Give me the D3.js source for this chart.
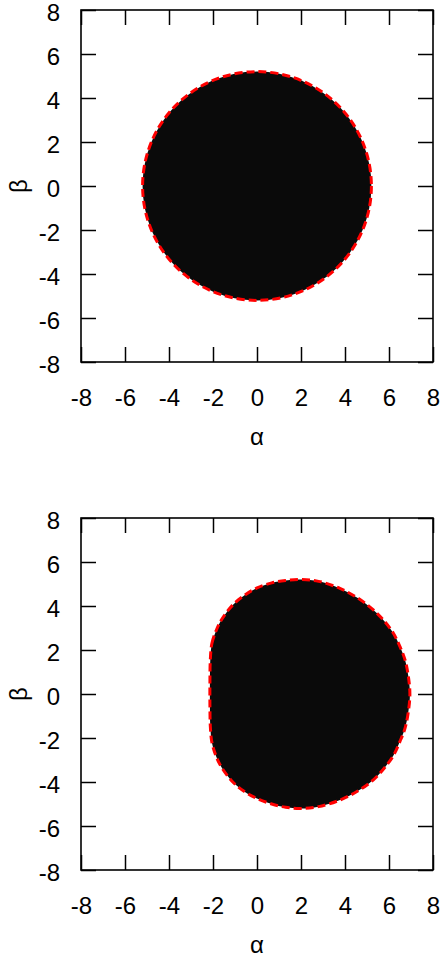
<!DOCTYPE html>
<html>
<head>
<meta charset="utf-8">
<script src="https://cdn.jsdelivr.net/npm/d3@7"></script>
<style>
  body { margin: 0; background: #fff; }
  text { font-family: "Liberation Sans", Arial, sans-serif; }
</style>
</head>
<body>
<script>
// DATA
// =============================================================================

const tickValues = [-8, -6, -4, -2, 0, 2, 4, 6, 8];

// panel 1: circular region (centre alpha, centre beta, radius)
const circleRegion = [{ alpha: 0, beta: 0, r: 5.2 }];

// panel 2: boundary of the shifted region
const boundaryAlpha = [-2.12, -2.05, -1.85, -1.6, -1.1, -0.55, 0.0, 0.67, 1.3, 2.0,
  2.8, 3.77, 4.6, 5.29, 5.8, 6.2, 6.5, 6.73, 6.88, 6.95, 6.88, 6.73, 6.5, 6.2,
  5.8, 5.29, 4.6, 3.77, 2.8, 2.0, 1.3, 0.67, 0.0, -0.55, -1.1, -1.6, -1.85,
  -2.05, -2.12, -2.14, -2.14];
const boundaryBeta = [1.6, 2.3, 2.9, 3.4, 4.05, 4.5, 4.82, 5.05, 5.16, 5.2,
  5.12, 4.8, 4.35, 3.82, 3.3, 2.76, 2.15, 1.55, 0.8, 0.0, -0.8, -1.55, -2.15, -2.8,
  -3.35, -3.9, -4.4, -4.82, -5.12, -5.2, -5.15, -5.0, -4.75, -4.45, -4.0, -3.35, -2.85,
  -2.2, -1.5, -0.5, 0.5];

// CONFIG
// =============================================================================

const width = 444;
const height = 960;
const plotSize = 352;
const left = 81;
const panelTops = [10, 518];
const tickLen = 15;
const fontSize = 24;

const svg = d3.select("body")
  .append("svg")
  .attr("width", width)
  .attr("height", height);

const xScale = d3.scaleLinear().domain([-8, 8]).range([0, plotSize]);
const yScale = d3.scaleLinear().domain([-8, 8]).range([plotSize, 0]);

// plain hyphen for negatives, like the original
const fmt = d => String(d);

function drawFrame(g) {
  g.append("g")
    .attr("class", "xlab")
    .attr("transform", `translate(0,${plotSize})`)
    .call(d3.axisBottom(xScale).tickValues(tickValues).tickSize(-tickLen).tickSizeOuter(0).tickPadding(27).tickFormat(fmt));
  g.append("g")
    .call(d3.axisTop(xScale).tickValues(tickValues).tickSize(-tickLen).tickSizeOuter(0).tickFormat(""));
  g.append("g")
    .attr("class", "ylab")
    .call(d3.axisLeft(yScale).tickValues(tickValues).tickSize(-tickLen).tickSizeOuter(0).tickPadding(21).tickFormat(fmt));
  g.append("g")
    .attr("transform", `translate(${plotSize},0)`)
    .call(d3.axisRight(yScale).tickValues(tickValues).tickSize(-tickLen).tickSizeOuter(0).tickFormat(""));

  g.selectAll(".domain").remove();
  g.selectAll(".tick line").attr("stroke", "#000").attr("stroke-width", 1.5);
  g.selectAll(".tick text")
    .attr("font-size", fontSize)
    .attr("font-family", "'Liberation Sans', Arial, sans-serif")
    .attr("fill", "#000");
  g.selectAll(".ylab .tick text").attr("dy", "0.42em");

  g.append("rect")
    .attr("width", plotSize)
    .attr("height", plotSize)
    .attr("fill", "none")
    .attr("stroke", "#000")
    .attr("stroke-width", 1.6);

  g.append("text")
    .attr("x", plotSize / 2)
    .attr("y", plotSize + 83)
    .attr("text-anchor", "middle")
    .attr("font-size", fontSize)
    .text("α");

  g.append("text")
    .attr("transform", `translate(${27 - left},${plotSize / 2}) rotate(-90)`)
    .attr("text-anchor", "middle")
    .attr("font-size", fontSize)
    .text("β");
}

// PANEL 1
// =============================================================================

const g1 = svg.append("g").attr("transform", `translate(${left},${panelTops[0]})`);

g1.selectAll("ellipse")
  .data(circleRegion)
  .enter()
  .append("ellipse")
  .attr("cx", d => xScale(d.alpha))
  .attr("cy", d => yScale(d.beta))
  .attr("rx", d => xScale(d.r) - xScale(0))
  .attr("ry", d => yScale(0) - yScale(d.r))
  .attr("fill", "#0a0a0a")
  .attr("stroke", "#ff0000")
  .attr("stroke-width", 3)
  .attr("stroke-dasharray", "8,4");

drawFrame(g1);

// PANEL 2
// =============================================================================

const g2 = svg.append("g").attr("transform", `translate(${left},${panelTops[1]})`);

const boundary = boundaryAlpha.map((a, i) => ({ alpha: a, beta: boundaryBeta[i] }));

const line = d3.line()
  .x(d => xScale(d.alpha))
  .y(d => yScale(d.beta))
  .curve(d3.curveCatmullRomClosed);

g2.append("path")
  .datum(boundary)
  .attr("d", line)
  .attr("fill", "#0a0a0a")
  .attr("stroke", "#ff0000")
  .attr("stroke-width", 3)
  .attr("stroke-dasharray", "8,4");

drawFrame(g2);
</script>
</body>
</html>
